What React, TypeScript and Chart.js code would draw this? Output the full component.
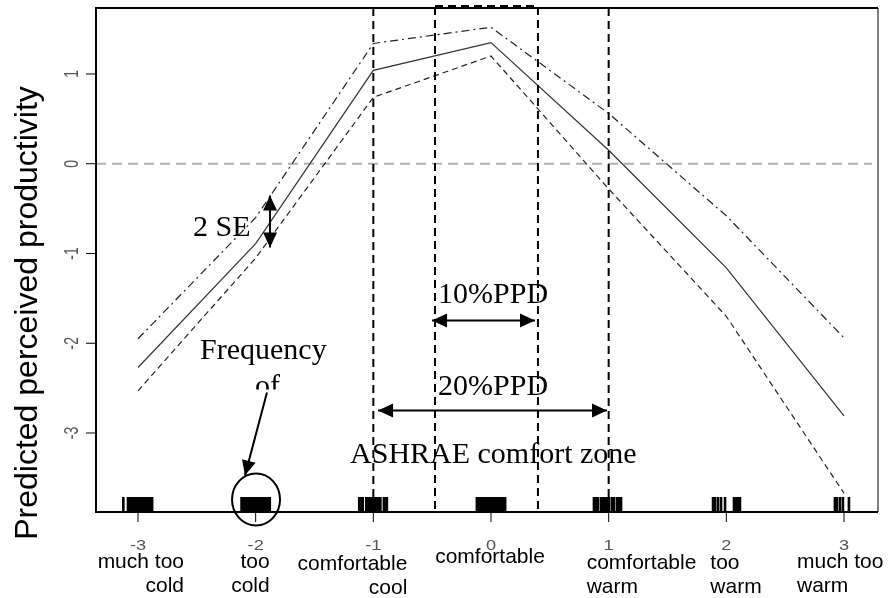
import React, { useEffect, useRef } from "react";
import { Chart, registerables } from "chart.js";
Chart.register(...registerables);

// ---------- data ----------
const RATINGS = [-3, -2, -1, 0, 1, 2, 3];
const TICK_NUMBERS = ["-3", "-2", "-1", "0", "1", "2", "3"];
const RATING_WORDS = [
  ["much too", "cold"],
  ["too", "cold"],
  ["comfortable", "cool"],
  ["comfortable"],
  ["comfortable", "warm"],
  ["too", "warm"],
  ["much too", "warm"],
];
const Y_TICKS = [1, 0, -1, -2, -3];
const Y_TICK_LABELS = ["1", "0", "-1", "-2", "-3"];
const FIT = [-2.27, -0.89, 1.04, 1.35, 0.15, -1.16, -2.81];
const UPPER = [-1.95, -0.6, 1.34, 1.52, 0.56, -0.58, -1.94];
const LOWER = [-2.53, -1.05, 0.74, 1.2, -0.28, -1.7, -3.67];
// rug of observed votes (jittered)
const RUG = [
  -3.125, -3.085, -3.07, -3.055, -3.04, -3.025, -3.01, -2.995, -2.98, -2.965, -2.95, -2.935, -2.92, -2.905, -2.89, -2.88,
  -2.12, -2.105, -2.09, -2.075, -2.06, -2.045, -2.03, -2.015, -2.0, -1.985, -1.97, -1.955, -1.94, -1.925, -1.91, -1.895, -1.88,
  -1.12, -1.105, -1.09, -1.06, -1.045, -1.03, -1.015, -1.0, -0.985, -0.97, -0.955, -0.94, -0.91, -0.895, -0.885,
  -0.12, -0.105, -0.09, -0.075, -0.06, -0.045, -0.03, -0.015, 0.0, 0.015, 0.03, 0.045, 0.06, 0.075, 0.09, 0.105, 0.12,
  0.875, 0.892, 0.909, 0.935, 0.952, 0.969, 0.986, 1.003, 1.028, 1.045, 1.071, 1.088, 1.105,
  1.887, 1.904, 1.929, 1.955, 1.989, 2.065, 2.082, 2.099, 2.116,
  2.923, 2.94, 2.966, 2.991, 3.042,
];
const ZONE_LINES = [-1, 1];
const PPD10_RANGE = [-0.476, 0.399];
const PPD20_RANGE = [-0.96, 0.986];
const X_MIN = -3.357;
const X_MAX = 3.289;
const Y_MIN = -3.88;
const Y_MAX = 1.735;

const SERIF = '30px "Liberation Serif", "Times New Roman", serif';
const SANS = '"Liberation Sans", Arial, sans-serif';

function arrowHead(ctx: CanvasRenderingContext2D, x1: number, y1: number, x2: number, y2: number) {
  const ang = Math.atan2(y2 - y1, x2 - x1);
  const len = 15;
  const hw = 7;
  ctx.beginPath();
  ctx.moveTo(x2, y2);
  ctx.lineTo(x2 - len * Math.cos(ang) + hw * Math.sin(ang), y2 - len * Math.sin(ang) - hw * Math.cos(ang));
  ctx.lineTo(x2 - len * Math.cos(ang) - hw * Math.sin(ang), y2 - len * Math.sin(ang) + hw * Math.cos(ang));
  ctx.closePath();
  ctx.fill();
}

function arrow(ctx: CanvasRenderingContext2D, x1: number, y1: number, x2: number, y2: number, both: boolean) {
  ctx.save();
  ctx.setLineDash([]);
  ctx.strokeStyle = "#000";
  ctx.fillStyle = "#000";
  ctx.lineWidth = 2;
  ctx.beginPath();
  ctx.moveTo(x1, y1);
  ctx.lineTo(x2, y2);
  ctx.stroke();
  arrowHead(ctx, x1, y1, x2, y2);
  if (both) arrowHead(ctx, x2, y2, x1, y1);
  ctx.restore();
}

const decorPlugin = {
  id: "decor",
  beforeDraw(chart: any) {
    const ctx = chart.ctx;
    ctx.save();
    ctx.fillStyle = "#fff";
    ctx.fillRect(0, 0, chart.width, chart.height);
    const { left, right } = chart.chartArea;
    const y0 = chart.scales.y.getPixelForValue(0);
    ctx.strokeStyle = "#b0b0b0";
    ctx.lineWidth = 2;
    ctx.setLineDash([10, 6]);
    ctx.beginPath();
    ctx.moveTo(left, y0);
    ctx.lineTo(right - 6, y0);
    ctx.stroke();
    ctx.restore();
  },
  afterDraw(chart: any) {
    const ctx: CanvasRenderingContext2D = chart.ctx;
    const xs = chart.scales.x;
    const ys = chart.scales.y;
    const { left, right, top, bottom } = chart.chartArea;
    const X = (v: number) => xs.getPixelForValue(v);
    const Y = (v: number) => ys.getPixelForValue(v);
    ctx.save();

    // rug
    ctx.strokeStyle = "#000";
    ctx.lineWidth = 2.6;
    RUG.forEach((v) => {
      const px = X(v);
      ctx.beginPath();
      ctx.moveTo(px, bottom - 15);
      ctx.lineTo(px, bottom);
      ctx.stroke();
    });

    // comfort zone lines
    ctx.setLineDash([8, 5]);
    ctx.lineWidth = 2;
    ZONE_LINES.forEach((v) => {
      ctx.beginPath();
      ctx.moveTo(X(v), top);
      ctx.lineTo(X(v), bottom);
      ctx.stroke();
    });
    // 10% PPD box
    const bx1 = X(PPD10_RANGE[0]);
    const bx2 = X(PPD10_RANGE[1]);
    ctx.strokeRect(bx1, top - 2, bx2 - bx1, bottom - top + 2);
    ctx.setLineDash([]);

    // plot frame
    ctx.strokeStyle = "#000";
    ctx.lineWidth = 2;
    ctx.beginPath();
    ctx.moveTo(right, top);
    ctx.lineTo(left, top);
    ctx.lineTo(left, bottom);
    ctx.lineTo(right, bottom);
    ctx.stroke();
    ctx.lineWidth = 1;
    ctx.beginPath();
    ctx.moveTo(right, top);
    ctx.lineTo(right, bottom);
    ctx.stroke();

    // x ticks
    ctx.lineWidth = 1;
    RATINGS.forEach((v, i) => {
      const px = X(v);
      ctx.beginPath();
      ctx.moveTo(px, bottom);
      ctx.lineTo(px, bottom + 10);
      ctx.stroke();
      ctx.save();
      ctx.translate(px, 550);
      ctx.scale(1.3, 1);
      ctx.fillStyle = "#555";
      ctx.font = "14px " + SANS;
      ctx.textAlign = "center";
      ctx.textBaseline = "alphabetic";
      ctx.fillText(TICK_NUMBERS[i], 0, 0);
      ctx.restore();
    });
    // x word labels
    const wordLayout = [
      { align: "right", dx: 46, b: 0 },
      { align: "right", dx: 14, b: 0 },
      { align: "right", dx: 34, b: 2 },
      { align: "center", dx: -1, b: -5 },
      { align: "left", dx: -22, b: 1 },
      { align: "left", dx: -16, b: 1 },
      { align: "left", dx: -47, b: 0 },
    ];
    ctx.fillStyle = "#000";
    ctx.font = "21px " + SANS;
    RATINGS.forEach((v, i) => {
      const lay = wordLayout[i];
      ctx.textAlign = lay.align as CanvasTextAlign;
      RATING_WORDS[i].forEach((w, j) => {
        ctx.fillText(w, X(v) + lay.dx, 568 + lay.b + j * 24);
      });
    });

    // y ticks
    Y_TICKS.forEach((v, i) => {
      const py = Y(v);
      ctx.strokeStyle = "#000";
      ctx.lineWidth = 1;
      ctx.beginPath();
      ctx.moveTo(left - 10, py);
      ctx.lineTo(left, py);
      ctx.stroke();
      ctx.save();
      ctx.translate(78, py);
      ctx.scale(1.4, 1);
      ctx.rotate(-Math.PI / 2);
      ctx.fillStyle = "#555";
      ctx.font = "14px " + SANS;
      ctx.textAlign = "center";
      ctx.textBaseline = "alphabetic";
      ctx.fillText(Y_TICK_LABELS[i], 0, 0);
      ctx.restore();
    });

    // y title
    ctx.save();
    ctx.translate(37, 313);
    ctx.rotate(-Math.PI / 2);
    ctx.fillStyle = "#000";
    ctx.font = "32px " + SANS;
    ctx.textAlign = "center";
    ctx.fillText("Predicted perceived productivity", 0, 0);
    ctx.restore();

    // annotations
    ctx.fillStyle = "#000";
    ctx.font = SERIF;
    ctx.textAlign = "left";
    ctx.fillText("2 SE", X(-2.533), Y(-0.8));
    arrow(ctx, X(-1.878), Y(-0.354), X(-1.878), Y(-0.933), true);

    ctx.fillText("10%PPD", X(-0.45), Y(-1.557));
    arrow(ctx, X(PPD10_RANGE[0] - 0.025), Y(-1.747), X(PPD10_RANGE[1] - 0.025), Y(-1.747), true);

    ctx.fillText("20%PPD", X(-0.45), Y(-2.582));
    arrow(ctx, X(PPD20_RANGE[0]), Y(-2.749), X(PPD20_RANGE[1]), Y(-2.749), true);

    ctx.fillText("ASHRAE comfort zone", X(-1.198), Y(-3.329));

    ctx.fillText("Frequency", X(-2.473), Y(-2.181));
    ctx.save();
    ctx.beginPath();
    ctx.rect(0, 0, chart.width, Y(-2.516));
    ctx.clip();
    ctx.fillText("of", X(-2.006), Y(-2.571));
    ctx.restore();
    arrow(ctx, X(-1.904), Y(-2.549), X(-2.091), Y(-3.474), false);

    ctx.strokeStyle = "#000";
    ctx.lineWidth = 2;
    ctx.beginPath();
    ctx.ellipse(X(-1.997), Y(-3.741), 24, 26, 0, 0, Math.PI * 2);
    ctx.stroke();

    ctx.restore();
  },
};

export default function App() {
  const ref = useRef<HTMLCanvasElement | null>(null);
  useEffect(() => {
    if (!ref.current) return;
    const pts = (arr: number[]) => RATINGS.map((x, i) => ({ x, y: arr[i] }));
    const chart = new Chart(ref.current, {
      type: "line",
      data: {
        datasets: [
          { data: pts(FIT), borderColor: "#333", borderWidth: 1.2, pointRadius: 0, tension: 0 },
          { data: pts(UPPER), borderColor: "#222", borderWidth: 1.2, borderDash: [8, 4, 2, 4], pointRadius: 0, tension: 0 },
          { data: pts(LOWER), borderColor: "#222", borderWidth: 1.2, borderDash: [6, 4], pointRadius: 0, tension: 0 },
        ],
      },
      options: {
        animation: false,
        responsive: false,
        layout: { padding: { left: 96, top: 8, right: 12, bottom: 86 } },
        scales: {
          x: { type: "linear", min: X_MIN, max: X_MAX, display: false },
          y: { type: "linear", min: Y_MIN, max: Y_MAX, display: false },
        },
        plugins: { legend: { display: false }, tooltip: { enabled: false } },
      },
      plugins: [decorPlugin],
    } as any);
    return () => chart.destroy();
  }, []);
  return (
    <div style={{ position: "absolute", left: 0, top: 0, width: 890, height: 598 }}>
      <canvas ref={ref} width={890} height={598} style={{ width: 890, height: 598 }} />
    </div>
  );
}
